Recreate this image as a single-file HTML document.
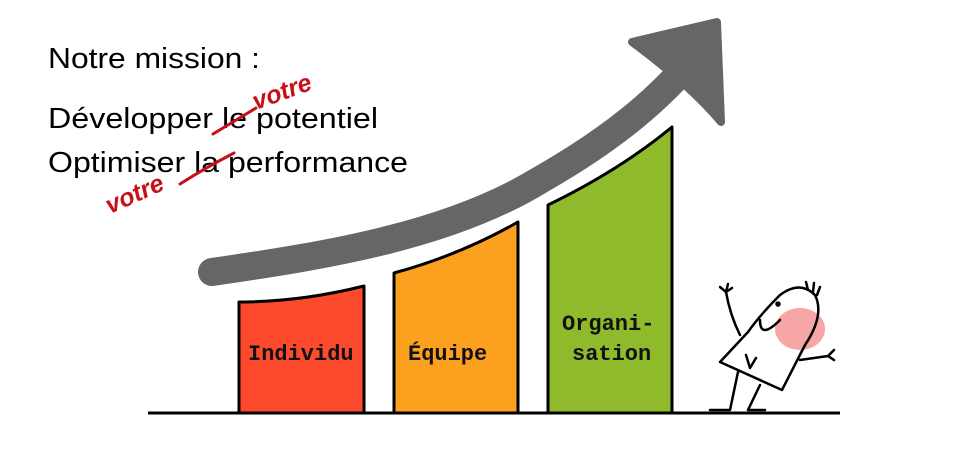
<!DOCTYPE html>
<html><head><meta charset="utf-8"><style>
html,body{margin:0;padding:0;background:#fff;}
svg{display:block}
</style></head><body>
<svg width="960" height="460" viewBox="0 0 960 460" xmlns="http://www.w3.org/2000/svg">
<g font-family="Liberation Sans, sans-serif" font-size="29" fill="#000">
<text x="48" y="68" textLength="212" lengthAdjust="spacingAndGlyphs">Notre mission :</text>
<text x="48" y="128" textLength="330" lengthAdjust="spacingAndGlyphs">Développer le potentiel</text>
<text x="48" y="172" textLength="360" lengthAdjust="spacingAndGlyphs">Optimiser la performance</text>
</g>
<g stroke="#c8101a" stroke-width="3" fill="none" stroke-linecap="round">
<path d="M213 134 Q233 122 256 108"/>
<path d="M180 184 Q205 168 234 153"/>
</g>
<g font-family="Liberation Sans, sans-serif" font-style="italic" font-weight="bold" font-size="25" fill="#c8101a">
<text x="256" y="110" transform="rotate(-20 256 110)">votre</text>
<text x="110" y="214" transform="rotate(-24 110 214)">votre</text>
</g>
<!-- arrow -->
<path d="M212 272 C330 255 450 235 540 180 C610 140 660 100 700 50" stroke="#666" stroke-width="28" fill="none" stroke-linecap="round"/>
<path d="M632 42 L717 22 L721 122 Q690 85 632 42 Z" fill="#666" stroke="#666" stroke-width="8" stroke-linejoin="round"/>
<!-- bars -->
<g stroke="#000" stroke-width="3" stroke-linejoin="round">
<path d="M239 413 L239 302 Q300 302 364 286 L364 413 Z" fill="#fd4a2d"/>
<path d="M394 413 L394 273 Q460 255 518 222 L518 413 Z" fill="#fca020"/>
<path d="M548 413 L548 205 Q620 170 672 127 L672 413 Z" fill="#8fba2c"/>
</g>
<line x1="148" y1="413" x2="840" y2="413" stroke="#000" stroke-width="3"/>
<g font-family="Liberation Mono, monospace" font-weight="bold" font-size="22" fill="#111">
<text x="248" y="360">Individu</text>
<text x="408" y="360">Équipe</text>
<text x="562" y="330">Organi-</text>
<text x="572" y="360">sation</text>
</g>
<!-- stick figure -->
<g stroke="#000" stroke-width="2.5" fill="none" stroke-linecap="round" stroke-linejoin="round">
<ellipse cx="800" cy="329" rx="25" ry="21" fill="#f7a6a6" stroke="none"/>
<path d="M720 362 L748 332 Q760 315 780 295 Q800 280 815 295 Q825 315 805 345 L782 390 Z"/>
<path d="M760 320 Q760 340 780 320"/>
<circle cx="778" cy="304" r="1.5" fill="#000"/>
<path d="M808 290 L806 282 M813 292 L814 283 M817 295 L820 287"/>
<path d="M740 335 Q730 315 726 292 M726 292 L720 287 M726 292 L728 284 M726 292 L732 288"/>
<path d="M800 360 L828 356 M828 356 L834 350 M828 356 L834 360"/>
<path d="M738 372 L730 410 L710 410 M760 385 L748 410 L765 410"/>
<path d="M746 355 L750 368 L756 358"/>
</g>
</svg>
</body></html>
